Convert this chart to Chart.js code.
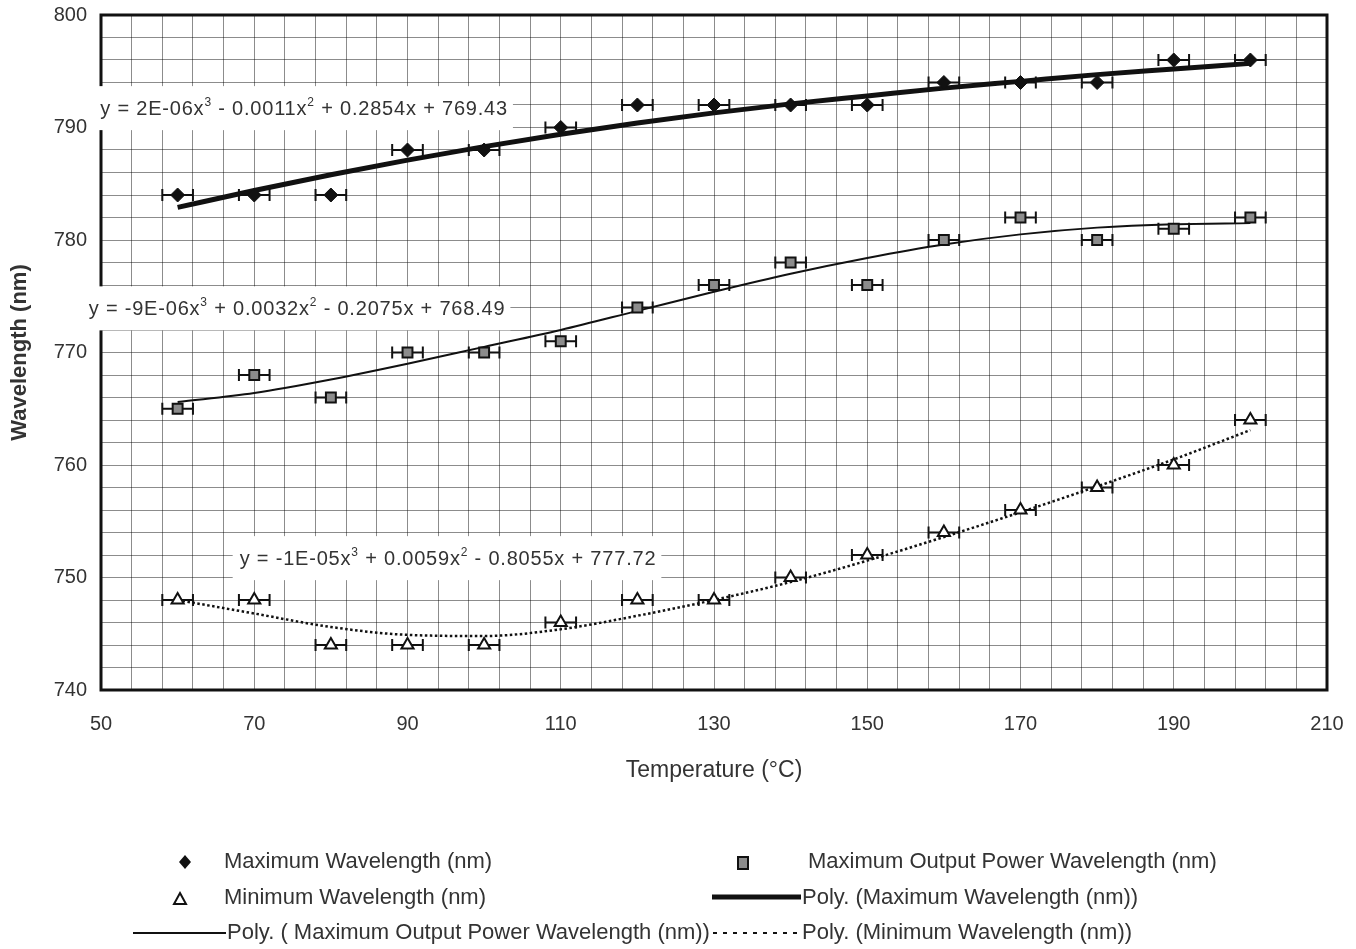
<!DOCTYPE html>
<html>
<head>
<meta charset="utf-8">
<title>Wavelength vs Temperature</title>
<script src="https://cdn.jsdelivr.net/npm/chart.js@4.4.1/dist/chart.umd.min.js"></script>
<style>
    html, body { margin: 0; padding: 0; background: #fff; }
    #wrap { width: 1356px; height: 949px; }
</style>
</head>
<body>
<div id="wrap"><canvas id="wlChart" width="1356" height="949"></canvas></div>
<script>
// ==================== DATA ====================
const temperatures = [60, 70, 80, 90, 100, 110, 120, 130, 140, 150, 160, 170, 180, 190, 200];

const maxWavelength      = [784, 784, 784, 788, 788, 790, 792, 792, 792, 792, 794, 794, 794, 796, 796];
const maxPowerWavelength = [765, 768, 766, 770, 770, 771, 774, 776, 778, 776, 780, 782, 780, 781, 782];
const minWavelength      = [748, 748, 744, 744, 744, 746, 748, 748, 750, 752, 754, 756, 758, 760, 764];

// polynomial trendlines at each temperature
const maxWavelengthFit      = [782.9, 784.4, 785.8, 787.1, 788.3, 789.4, 790.4, 791.3, 792.1, 792.8, 793.5, 794.1, 794.7, 795.2, 795.7];
const maxPowerWavelengthFit = [765.6, 766.4, 767.6, 769.0, 770.5, 772.0, 773.7, 775.4, 777.0, 778.4, 779.6, 780.5, 781.1, 781.4, 781.5];
const minWavelengthFit      = [748.0, 746.8, 745.6, 744.9, 744.8, 745.4, 746.6, 748.0, 749.6, 751.5, 753.6, 755.8, 758.1, 760.5, 763.1];

const tempError = 2; // +/- degC

const xTickLabels = [50, 70, 90, 110, 130, 150, 170, 190, 210];
const yTickLabels = [740, 750, 760, 770, 780, 790, 800];

const fitEquations = [
    { text: 'y = 2E-06x^3 - 0.0011x^2 + 0.2854x + 769.43', x: 49.9, y: 791.1 },
    { text: 'y = -9E-06x^3 + 0.0032x^2 - 0.2075x + 768.49', x: 48.4, y: 773.3 },
    { text: 'y = -1E-05x^3 + 0.0059x^2 - 0.8055x + 777.72', x: 68.1, y: 751.1 }
];

const FONT = '"Liberation Sans", Arial, Helvetica, sans-serif';
const INK = '#111';
const TEXT = '#333';

const toPoints = ys => temperatures.map((t, i) => ({ x: t, y: ys[i] }));

// ==================== HELPERS ====================
function richWidth(ctx, str, font, supFont) {
    let w = 0;
    str.split(/\^(\d)/).forEach((p, i) => {
        ctx.font = i % 2 ? supFont : font;
        w += ctx.measureText(p).width;
    });
    return w;
}

function drawRich(ctx, str, x, base, font, supFont) {
    let cx = x;
    str.split(/\^(\d)/).forEach((p, i) => {
        const sup = i % 2 === 1;
        ctx.font = sup ? supFont : font;
        ctx.fillText(p, cx, sup ? base - 9 : base);
        cx += ctx.measureText(p).width;
    });
}

function drawMarker(ctx, style, x, y) {
    ctx.save();
    ctx.strokeStyle = INK;
    ctx.lineWidth = 2;
    ctx.beginPath();
    if (style === 'diamond') {
        ctx.moveTo(x, y - 7); ctx.lineTo(x + 6, y); ctx.lineTo(x, y + 7); ctx.lineTo(x - 6, y); ctx.closePath();
        ctx.fillStyle = INK; ctx.fill();
    } else if (style === 'square') {
        ctx.rect(x - 5, y - 6, 10, 12);
        ctx.fillStyle = '#8c8c8c'; ctx.fill(); ctx.stroke();
    } else if (style === 'triangle') {
        ctx.moveTo(x, y - 6); ctx.lineTo(x + 6, y + 5); ctx.lineTo(x - 6, y + 5); ctx.closePath();
        ctx.fillStyle = '#fff'; ctx.fill(); ctx.stroke();
    }
    ctx.restore();
}

function drawSwatch(ctx, x1, x2, y, width, dash) {
    ctx.save();
    ctx.strokeStyle = INK;
    ctx.lineWidth = width;
    ctx.setLineDash(dash || []);
    ctx.beginPath();
    ctx.moveTo(x1, y); ctx.lineTo(x2, y);
    ctx.stroke();
    ctx.restore();
}

// ==================== PLUGINS ====================
const plotFrame = {
    id: 'plotFrame',
    beforeDatasetsDraw(chart) {
        const { ctx, chartArea: a, scales: { x, y } } = chart;
        ctx.save();
        ctx.strokeStyle = INK;
        ctx.lineWidth = 3;
        ctx.strokeRect(a.left, a.top, a.right - a.left, a.bottom - a.top);

        // trendline equations on white boxes
        const font = '20px ' + FONT;
        const supFont = '12px ' + FONT;
        ctx.letterSpacing = '0.8px';
        fitEquations.forEach(eq => {
            const px = x.getPixelForValue(eq.x);
            const base = y.getPixelForValue(eq.y);
            const w = richWidth(ctx, eq.text, font, supFont);
            ctx.fillStyle = '#fff';
            ctx.fillRect(px - 7, base - 29, w + 12, 44);
            ctx.fillStyle = TEXT;
            ctx.textBaseline = 'alphabetic';
            ctx.textAlign = 'left';
            drawRich(ctx, eq.text, px, base, font, supFont);
        });
        ctx.letterSpacing = '0px';
        ctx.restore();
    }
};

const errorBars = {
    id: 'errorBars',
    beforeDatasetsDraw(chart) {
        const { ctx, scales: { x, y } } = chart;
        ctx.save();
        ctx.strokeStyle = INK;
        ctx.lineWidth = 2;
        chart.data.datasets.forEach(ds => {
            if (!ds.errorX) return;
            ds.data.forEach(p => {
                const x1 = x.getPixelForValue(p.x - ds.errorX);
                const x2 = x.getPixelForValue(p.x + ds.errorX);
                const py = y.getPixelForValue(p.y);
                ctx.beginPath();
                ctx.moveTo(x1, py); ctx.lineTo(x2, py);
                ctx.moveTo(x1, py - 6); ctx.lineTo(x1, py + 6);
                ctx.moveTo(x2, py - 6); ctx.lineTo(x2, py + 6);
                ctx.stroke();
            });
        });
        ctx.restore();
    }
};

const titlesAndLegend = {
    id: 'titlesAndLegend',
    afterDraw(chart) {
        const { ctx, chartArea: a } = chart;
        ctx.save();
        ctx.fillStyle = TEXT;

        // axis titles
        ctx.font = '23px ' + FONT;
        ctx.textAlign = 'center';
        ctx.textBaseline = 'middle';
        ctx.fillText('Temperature (°C)', (a.left + a.right) / 2, 771);

        ctx.save();
        ctx.translate(20, (a.top + a.bottom) / 2);
        ctx.rotate(-Math.PI / 2);
        ctx.font = 'bold 22px ' + FONT;
        ctx.fillText('Wavelength (nm)', 0, 0);
        ctx.restore();

        // legend
        ctx.font = '22px ' + FONT;
        ctx.textAlign = 'left';
        ctx.textBaseline = 'middle';

        drawMarker(ctx, 'diamond', 185, 862);
        ctx.fillText('Maximum Wavelength (nm)', 224, 862);
        drawMarker(ctx, 'square', 743, 863);
        ctx.fillText('Maximum Output Power Wavelength (nm)', 808, 862);

        drawMarker(ctx, 'triangle', 180, 899);
        ctx.fillText('Minimum Wavelength (nm)', 224, 898);
        drawSwatch(ctx, 712, 801, 897, 5);
        ctx.fillText('Poly. (Maximum Wavelength (nm))', 802, 898);

        drawSwatch(ctx, 133, 226, 933, 2);
        ctx.fillText('Poly. ( Maximum Output Power Wavelength (nm))', 227, 933);
        drawSwatch(ctx, 713, 801, 933, 2, [4, 6]);
        ctx.fillText('Poly. (Minimum Wavelength (nm))', 802, 933);

        ctx.restore();
    }
};

// ==================== CHART ====================
const gridColor = 'rgba(0, 0, 0, 0.45)';

// keep the label overhang from pushing the plot area inwards
function noOverhang(scale) {
    scale.paddingTop = 0;
    scale.paddingBottom = 0;
    scale.paddingLeft = 0;
    scale.paddingRight = 0;
}

new Chart(document.getElementById('wlChart'), {
    type: 'scatter',
    data: {
        datasets: [
            {
                label: 'Maximum Wavelength (nm)',
                data: toPoints(maxWavelength),
                errorX: tempError,
                pointStyle: 'rectRot',
                pointRadius: 7,
                backgroundColor: INK,
                borderColor: INK,
                borderWidth: 1
            },
            {
                label: 'Maximum Output Power Wavelength (nm)',
                data: toPoints(maxPowerWavelength),
                errorX: tempError,
                pointStyle: 'rect',
                pointRadius: 7,
                backgroundColor: '#8c8c8c',
                borderColor: INK,
                borderWidth: 2
            },
            {
                label: 'Minimum Wavelength (nm)',
                data: toPoints(minWavelength),
                errorX: tempError,
                pointStyle: 'triangle',
                pointRadius: 7,
                backgroundColor: '#fff',
                borderColor: INK,
                borderWidth: 2
            },
            {
                label: 'Poly. (Maximum Wavelength (nm))',
                data: toPoints(maxWavelengthFit),
                showLine: true,
                cubicInterpolationMode: 'monotone',
                pointRadius: 0,
                borderColor: INK,
                borderWidth: 5
            },
            {
                label: 'Poly. ( Maximum Output Power Wavelength (nm))',
                data: toPoints(maxPowerWavelengthFit),
                showLine: true,
                cubicInterpolationMode: 'monotone',
                pointRadius: 0,
                borderColor: INK,
                borderWidth: 2
            },
            {
                label: 'Poly. (Minimum Wavelength (nm))',
                data: toPoints(minWavelengthFit),
                showLine: true,
                cubicInterpolationMode: 'monotone',
                pointRadius: 0,
                borderColor: INK,
                borderWidth: 2.5,
                borderDash: [2.5, 2.5]
            }
        ]
    },
    options: {
        responsive: false,
        animation: false,
        events: [],
        layout: { padding: { top: 15, right: 29, bottom: 159, left: 0 } },
        plugins: {
            legend: { display: false },
            tooltip: { enabled: false }
        },
        scales: {
            x: {
                type: 'linear',
                min: 50,
                max: 210,
                afterBuildTicks: scale => {
                    const ticks = [];
                    for (let v = 50; v <= 210; v += 4) ticks.push({ value: v });
                    scale.ticks = ticks;
                },
                afterFit: scale => { scale.height = 100; noOverhang(scale); },
                border: { display: false },
                grid: { color: gridColor, lineWidth: 1, drawTicks: false },
                ticks: {
                    autoSkip: false,
                    maxRotation: 0,
                    padding: 22,
                    color: TEXT,
                    font: { family: FONT, size: 20 },
                    callback: v => xTickLabels.includes(v) ? String(v) : ''
                }
            },
            y: {
                type: 'linear',
                min: 740,
                max: 800,
                afterBuildTicks: scale => {
                    const ticks = [];
                    for (let v = 740; v <= 800; v += 2) ticks.push({ value: v });
                    scale.ticks = ticks;
                },
                afterFit: scale => { scale.width = 101; noOverhang(scale); },
                border: { display: false },
                grid: { color: gridColor, lineWidth: 1, drawTicks: false },
                ticks: {
                    autoSkip: false,
                    padding: 14,
                    color: TEXT,
                    font: { family: FONT, size: 20 },
                    callback: v => yTickLabels.includes(v) ? String(v) : ''
                }
            }
        }
    },
    plugins: [plotFrame, errorBars, titlesAndLegend]
});
</script>
</body>
</html>
